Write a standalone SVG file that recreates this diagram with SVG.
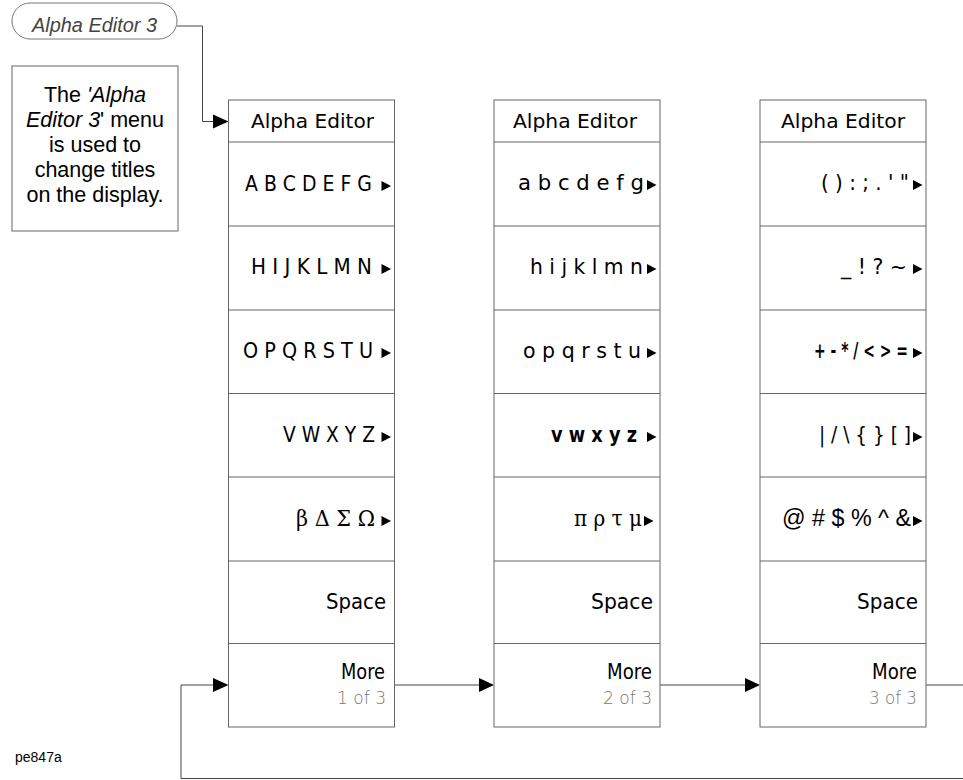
<svg xmlns="http://www.w3.org/2000/svg" width="963" height="780" viewBox="0 0 963 780">
<style>
.box{fill:#fff;stroke:#666;stroke-width:1}
.sep{stroke:#666;stroke-width:1}
.ln{fill:none;stroke:#444;stroke-width:1}
.ah{fill:#000}
.t{font-family:"DejaVu Sans",sans-serif;font-size:21px;fill:#000}
.hd{font-family:"DejaVu Sans",sans-serif;font-size:20px;fill:#000}
.sr{font-family:"DejaVu Serif","Liberation Serif",serif;font-size:22px;fill:#000}
.pg{font-family:"DejaVu Sans",sans-serif;font-size:18px;fill:#777;font-weight:200}
.ds{font-family:"Liberation Sans",Arial,sans-serif;font-size:21.5px;fill:#000;text-anchor:middle}
.tri{fill:#000}
</style>
<defs>
<polygon id="tr" points="0,-10 9.5,-5 0,0" class="tri"/>
</defs>

<g id="connectors">
<path class="ln" d="M177,26 H202.5 V121.5 H214"/>
<polygon class="ah" points="213,114.5 228.5,121.5 213,128.5"/>
<path class="ln" d="M394.5,685 H480"/>
<polygon class="ah" points="479,678 494,685 479,692"/>
<path class="ln" d="M660,685 H746"/>
<polygon class="ah" points="745,678 760,685 745,692"/>
<path class="ln" d="M926,685 H963"/>
<path class="ln" d="M963,778.5 H181 V685 H214"/>
<polygon class="ah" points="213,678 228.5,685 213,692"/>
</g>

<g id="menu-key">
<rect x="12" y="3" width="165" height="36" rx="18" ry="18" fill="#fff" stroke="#777" stroke-width="1"/>
<text x="32" y="32" font-family="Liberation Sans, Arial, sans-serif" font-size="20" font-style="italic" fill="#444" textLength="125" lengthAdjust="spacingAndGlyphs">Alpha Editor 3</text>
</g>

<g id="description">
<rect x="12" y="66" width="166" height="165" class="box"/>
<text class="ds" x="95" y="102">The <tspan font-style="italic">'Alpha</tspan></text>
<text class="ds" x="95" y="127"><tspan font-style="italic">Editor 3</tspan>' menu</text>
<text class="ds" x="95" y="152">is used to</text>
<text class="ds" x="95" y="177">change titles</text>
<text class="ds" x="95" y="202">on the display.</text>
</g>

<g id="menu1">
<rect x="228.5" y="100" width="166" height="627" class="box"/>
<path class="sep" d="M228.5,142 H394.5 M228.5,226 H394.5 M228.5,310 H394.5 M228.5,393.5 H394.5 M228.5,477 H394.5 M228.5,561 H394.5 M228.5,643.5 H394.5"/>
<text class="hd" x="251" y="128" textLength="123" lengthAdjust="spacingAndGlyphs">Alpha Editor</text>
<text class="t" x="245" y="191" textLength="127" lengthAdjust="spacingAndGlyphs">A B C D E F G</text>
<use href="#tr" x="381.5" y="191"/>
<text class="t" x="251" y="274" textLength="121" lengthAdjust="spacingAndGlyphs">H I J K L M N</text>
<use href="#tr" x="381.5" y="274"/>
<text class="t" x="243" y="358" textLength="130" lengthAdjust="spacingAndGlyphs">O P Q R S T U</text>
<use href="#tr" x="381.5" y="358"/>
<text class="t" x="283" y="442" textLength="92" lengthAdjust="spacingAndGlyphs">V W X Y Z</text>
<use href="#tr" x="381.5" y="442"/>
<text class="sr" x="296" y="526" textLength="79" lengthAdjust="spacingAndGlyphs">β Δ Σ Ω</text>
<use href="#tr" x="381.5" y="526"/>
<text class="t" x="326" y="609" textLength="60" lengthAdjust="spacingAndGlyphs">Space</text>
<text class="t" x="341" y="679" font-size="22" textLength="44" lengthAdjust="spacingAndGlyphs">More</text>
<text class="pg" x="337" y="704" textLength="49" lengthAdjust="spacingAndGlyphs">1 of 3</text>
</g>

<g id="menu2">
<rect x="494" y="100" width="166" height="627" class="box"/>
<path class="sep" d="M494,142 H660 M494,226 H660 M494,310 H660 M494,393.5 H660 M494,477 H660 M494,561 H660 M494,643.5 H660"/>
<text class="hd" x="513" y="128" textLength="124" lengthAdjust="spacingAndGlyphs">Alpha Editor</text>
<text class="t" x="518" y="190" textLength="126" lengthAdjust="spacingAndGlyphs">a b c d e f g</text>
<use href="#tr" x="647" y="190"/>
<text class="t" x="530" y="274" textLength="113" lengthAdjust="spacingAndGlyphs">h i j k l m n</text>
<use href="#tr" x="647" y="274"/>
<text class="t" x="523" y="358" textLength="118" lengthAdjust="spacingAndGlyphs">o p q r s t u</text>
<use href="#tr" x="647" y="358"/>
<text class="t" x="551" y="442" font-weight="bold" textLength="86" lengthAdjust="spacingAndGlyphs">v w x y z</text>
<use href="#tr" x="647" y="442"/>
<text class="sr" x="574" y="526" textLength="68" lengthAdjust="spacingAndGlyphs">π ρ τ μ</text>
<use href="#tr" x="644" y="526"/>
<text class="t" x="591" y="609" textLength="62" lengthAdjust="spacingAndGlyphs">Space</text>
<text class="t" x="607" y="679" font-size="22" textLength="45" lengthAdjust="spacingAndGlyphs">More</text>
<text class="pg" x="603" y="704" textLength="49" lengthAdjust="spacingAndGlyphs">2 of 3</text>
</g>

<g id="menu3">
<rect x="760" y="100" width="166" height="627" class="box"/>
<path class="sep" d="M760,142 H926 M760,226 H926 M760,310 H926 M760,393.5 H926 M760,477 H926 M760,561 H926 M760,643.5 H926"/>
<text class="hd" x="781" y="128" textLength="124" lengthAdjust="spacingAndGlyphs">Alpha Editor</text>
<text class="t" x="821" y="190" textLength="88" lengthAdjust="spacingAndGlyphs">( ) : ; . ' "</text>
<use href="#tr" x="913" y="190"/>
<text class="t" x="841" y="274" textLength="66" lengthAdjust="spacingAndGlyphs">_ ! ? ~</text>
<use href="#tr" x="913" y="274"/>
<text class="t" x="814" y="358" font-weight="bold" textLength="94" lengthAdjust="spacingAndGlyphs">+ - * / &lt; &gt; =</text>
<use href="#tr" x="913" y="358"/>
<text class="t" x="819" y="442" textLength="92" lengthAdjust="spacingAndGlyphs">| / \ { } [ ]</text>
<use href="#tr" x="913" y="442"/>
<text x="782" y="526" font-family="Liberation Sans, Arial, sans-serif" font-size="23" fill="#000" textLength="129" lengthAdjust="spacingAndGlyphs">@ # $ % ^ &amp;</text>
<use href="#tr" x="913" y="526"/>
<text class="t" x="857" y="609" textLength="61" lengthAdjust="spacingAndGlyphs">Space</text>
<text class="t" x="872" y="679" font-size="22" textLength="45" lengthAdjust="spacingAndGlyphs">More</text>
<text class="pg" x="869" y="704" textLength="48" lengthAdjust="spacingAndGlyphs">3 of 3</text>
</g>

<g id="figure-id">
<text x="15" y="762" font-family="Liberation Sans, Arial, sans-serif" font-size="14" fill="#000">pe847a</text>
</g>
</svg>
